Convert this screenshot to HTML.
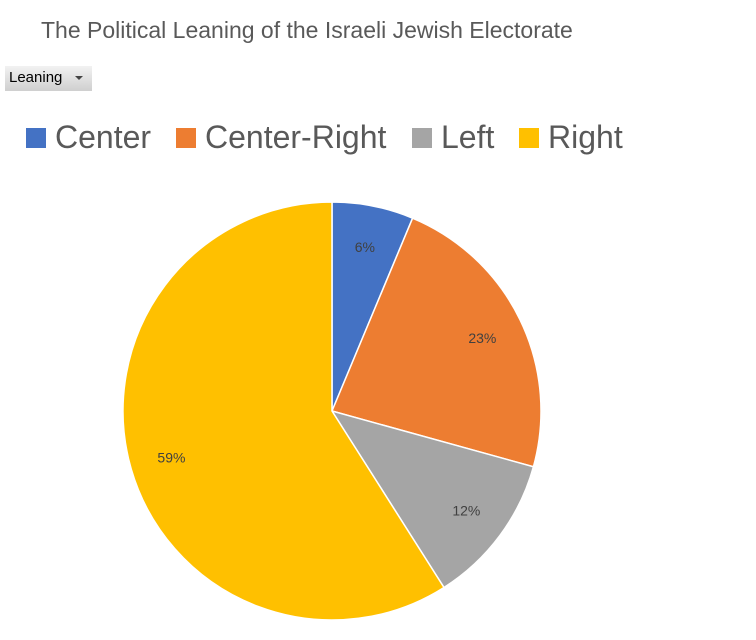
<!DOCTYPE html>
<html><head><meta charset="utf-8"><style>
body{margin:0;width:756px;height:640px;background:#fff;font-family:"Liberation Sans",sans-serif;position:relative;overflow:hidden}
#title{position:absolute;left:41px;top:17px;font-size:23px;color:#595959}
#btn{position:absolute;left:5px;top:66px;width:87px;height:25px;background:linear-gradient(#f2f2f2,#cfcfcf);font-size:15px;color:#000;box-sizing:border-box;padding:3px 0 0 4px}
#btn span{position:absolute;left:70px;top:10px;width:0;height:0;border-left:4px solid transparent;border-right:4px solid transparent;border-top:4px solid #444}
.lg{position:absolute;top:119px;font-size:32px;color:#595959;white-space:nowrap}
.sw{position:absolute;top:128px;width:20px;height:20px}
</style></head><body>
<div id="title">The Political Leaning of the Israeli Jewish Electorate</div>
<div id="btn">Leaning<span></span></div>
<div class="sw" style="left:26px;background:#4472c4"></div>
<div class="lg" style="left:55px">Center</div>
<div class="sw" style="left:176px;background:#ed7d31"></div>
<div class="lg" style="left:205px">Center-Right</div>
<div class="sw" style="left:412px;background:#a5a5a5"></div>
<div class="lg" style="left:441px">Left</div>
<div class="sw" style="left:519px;background:#ffc000"></div>
<div class="lg" style="left:548px">Right</div>
<svg id="pie" width="756" height="640" style="position:absolute;left:0;top:0"></svg>
<script>
const categories=["Center","Center-Right","Left","Right"];
const values=[6.3,23,11.7,59];
const labels=["6%","23%","12%","59%"];
const colors=["#4472c4","#ed7d31","#a5a5a5","#ffc000"];
const cx=332,cy=411,r=209,ns="http://www.w3.org/2000/svg";
const svg=document.getElementById('pie');
const total=values.reduce((a,b)=>a+b,0);
let a0=0;
values.forEach((v,i)=>{
  const a1=a0+v/total*2*Math.PI;
  const p=a=>[cx+r*Math.sin(a),cy-r*Math.cos(a)];
  const [x0,y0]=p(a0),[x1,y1]=p(a1);
  const path=document.createElementNS(ns,'path');
  path.setAttribute('d',`M${cx},${cy}L${x0},${y0}A${r},${r} 0 ${a1-a0>Math.PI?1:0} 1 ${x1},${y1}Z`);
  path.setAttribute('fill',colors[i]);path.setAttribute('stroke','#fff');path.setAttribute('stroke-width','1.5');
  
  
  svg.appendChild(path);
  const m=(a0+a1)/2,lr=r*0.8;
  const t=document.createElementNS(ns,'text');
  t.setAttribute('x',cx+lr*Math.sin(m));t.setAttribute('y',cy-lr*Math.cos(m)+5);
  t.setAttribute('text-anchor','middle');t.setAttribute('font-size','14');t.setAttribute('fill','#404040');
  t.setAttribute('font-family','Liberation Sans, sans-serif');
  t.textContent=labels[i];
  
  
  svg.appendChild(t);
  a0=a1;
});
</script>
</body></html>
